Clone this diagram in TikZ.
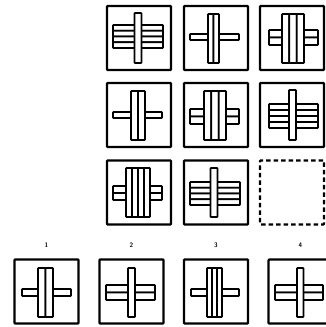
\documentclass[tikz,border=0pt]{standalone}
\begin{document}
\begin{tikzpicture}[x=1pt,y=-1pt,
  cellbox/.style={draw=black,line width=2.2pt,minimum width=64pt,minimum height=64pt,inner sep=0pt,outer sep=0pt,rounded corners=0.8pt},
  emptybox/.style={cellbox,dash pattern=on 4.5pt off 3pt},
  bar/.style={draw=black,fill=white,line width=1.7pt,rounded corners=0.6pt},
  lbl/.style={font=\sffamily\bfseries\fontsize{6.5}{7}\selectfont,inner sep=0pt}]
\useasboundingbox (0,0) rectangle (325,327);
\newcommand\hbars[5]{%
  \pgfmathsetmacro\bhh{(#4-#3)/#5}%
  \foreach \i in {1,...,#5}{\draw[bar] (#1,{#3+(\i-1)*\bhh}) rectangle (#2,{#3+\i*\bhh});}}
\newcommand\vbars[5]{%
  \pgfmathsetmacro\bww{(#2-#1)/#5}%
  \foreach \i in {1,...,#5}{\draw[bar] ({#1+(\i-1)*\bww},#3) rectangle ({#1+\i*\bww},#4);}}
% grid boxes
\node[cellbox] (c11) at (139,38) {};
\node[cellbox] (c12) at (216,38) {};
\node[cellbox] (c13) at (292,38) {};
\node[cellbox] (c21) at (139,115) {};
\node[cellbox] (c22) at (216,115) {};
\node[cellbox] (c23) at (292,115) {};
\node[cellbox] (c31) at (139,192.5) {};
\node[cellbox] (c32) at (216,192.5) {};
\node[emptybox] (c33) at (292,192.5) {};
% options
\node[cellbox] (o1) at (46.5,291.5) {};
\node[cellbox] (o2) at (131.5,291.5) {};
\node[cellbox] (o3) at (216,291.5) {};
\node[cellbox] (o4) at (300.5,291.5) {};
\node[lbl] (l1) at (46.5,245) {1};
\node[lbl] (l2) at (131.5,245) {2};
\node[lbl] (l3) at (216,245) {3};
\node[lbl] (l4) at (300.5,245) {4};
% row 1
\hbars{113}{163}{25}{48}{4}\vbars{134.5}{141.5}{13}{63}{1}
\hbars{190}{239}{34}{40}{1}\vbars{208}{219}{14}{63}{2}
\hbars{269}{318}{30}{45}{2}\vbars{282}{304}{14}{63}{3}
% row 2
\hbars{113}{162}{112}{118}{1}\vbars{131}{145}{91}{140}{2}
\hbars{190}{239}{109}{124}{2}\vbars{204}{226}{91}{140}{3}
\hbars{269}{318}{104}{128}{4}\vbars{289}{296}{90}{140}{1}
% row 3
\hbars{113}{162}{186}{200}{2}\vbars{126}{150}{168}{217}{4}
\hbars{190}{240}{182}{205}{4}\vbars{210.5}{217.5}{168}{217}{1}
% options
\hbars{22}{71}{289}{296}{1}\vbars{38}{53}{268}{317}{2}
\hbars{106}{155}{285}{300}{2}\vbars{128}{135}{268}{317}{1}
\hbars{191}{239}{289}{296}{1}\vbars{207}{222}{268}{317}{3}
\hbars{275}{323}{285}{300}{2}\vbars{297}{303.5}{268}{317}{1}
\end{tikzpicture}
\end{document}
